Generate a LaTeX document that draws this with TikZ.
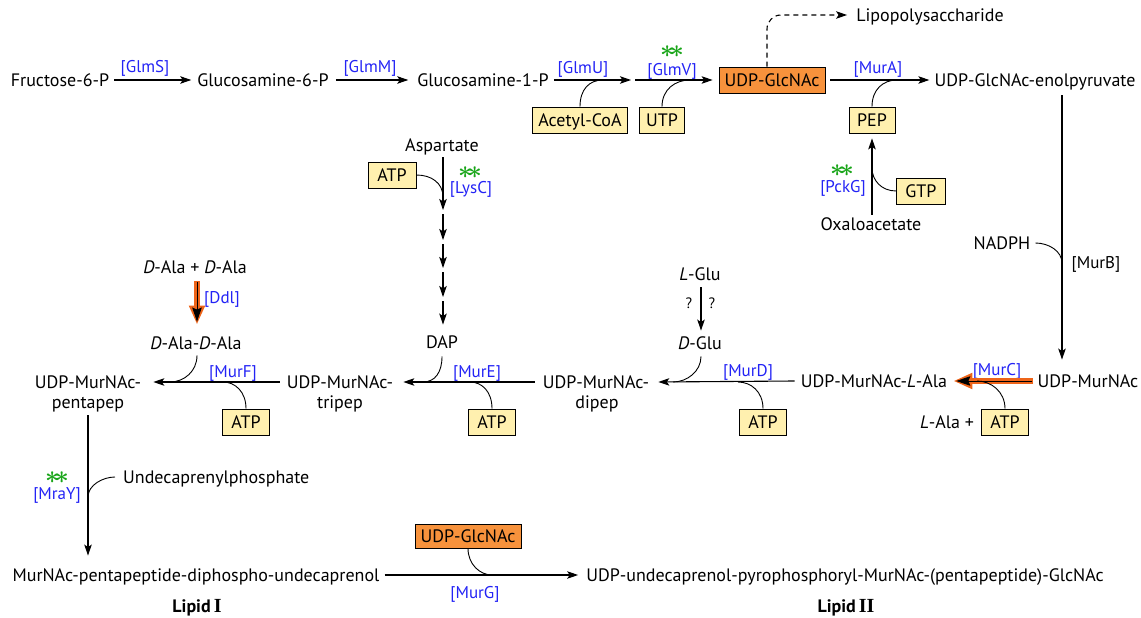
\documentclass[tikz,border=0pt]{standalone}
\usepackage{fontspec}
\setmainfont{PT Sans}
\newfontfamily\romfont{Liberation Serif}
\usetikzlibrary{arrows.meta,calc}
\definecolor{enzblue}{RGB}{35,35,245}
\definecolor{stargreen}{RGB}{25,165,25}
\definecolor{boxyellow}{RGB}{255,240,175}
\definecolor{boxorange}{RGB}{247,146,60}
\definecolor{hiorange}{RGB}{238,100,25}
\begin{document}
\begin{tikzpicture}[x=1pt,y=-1pt,
  every node/.style={inner sep=0pt, font=\fontsize{18}{21}\selectfont},
  lbl/.style={text height=12.5pt, text depth=0pt},
  enz/.style={text=enzblue, font=\fontsize{17}{19}\selectfont, text height=12pt, text depth=0pt},
  stars/.style={text=stargreen, font=\fontsize{25}{25}\selectfont\boldmath, text height=12.5pt, text depth=0pt},
  ybox/.style={draw, line width=0.8pt, fill=boxyellow, minimum height=26pt, text height=12.5pt, text depth=0pt},
  obox/.style={ybox, fill=boxorange},
  arr/.style={line width=1.1pt, -{Stealth[length=11pt,width=7.5pt,inset=2.5pt]}},
  conn/.style={line width=0.9pt},
  hiback/.style={line width=5.5pt, hiorange, shorten >=-3pt, -{Triangle[length=19pt,width=15pt]}},
  hifront/.style={line width=0.8pt, black, -{Stealth[length=14pt,width=9.5pt,inset=2pt]}},
  qm/.style={font=\fontsize{15}{17}\selectfont, text height=11pt, text depth=0pt}
]
\useasboundingbox (0,0) rectangle (1141,618);

% ---------- row 1 ----------
\node[lbl] (f6p) at (60,80) {Fructose-6-P};
\node[lbl] (g6p) at (263,80) {Glucosamine-6-P};
\node[lbl] (g1p) at (483,80) {Glucosamine-1-P};
\node[obox, minimum width=106pt] (udpg) at (772,80) {UDP-GlcNAc};
\node[lbl] (enol) at (1035,80) {UDP-GlcNAc-enolpyruvate};
\node[lbl] (lps) at (930,15) {Lipopolysaccharide};
\node[ybox, minimum width=95pt] (acoa) at (580,120) {Acetyl-CoA};
\node[ybox, minimum width=45pt] (utp) at (662,120) {UTP};
\node[ybox, minimum width=46pt] (pep) at (872,120) {PEP};
\node[enz] (glms) at (145,67) {[GlmS]};
\node[enz] (glmm) at (370,67) {[GlmM]};
\node[enz] (glmu) at (583,68) {[GlmU]};
\node[enz] (glmv) at (672,69) {[GlmV]};
\node[stars] (s1) at (672,51) {$\ast\!\ast$};
\node[enz] (mura) at (878,68) {[MurA]};

\coordinate (m1) at (631,80);
\coordinate (m2) at (635,80);
\coordinate (j1) at (603,80);
\coordinate (j2) at (690,80);
\coordinate (j3) at (897,80);

\draw[arr] ($(f6p.east)+(5,0)$) -- ($(g6p.west)+(-6,0)$);
\draw[arr] ($(g6p.east)+(7,0)$) -- ($(g1p.west)+(-9,0)$);
\draw[arr] ($(g1p.east)+(5,0)$) -- (m1);
\draw[arr] (m2) -- ($(udpg.west)+(-6,0)$);
\draw[arr] ($(udpg.east)+(5,0)$) -- ($(enol.west)+(-5,0)$);
\draw[conn] (acoa.north) .. controls ($(acoa.north)+(0,-17)$) and ($(j1)+(-14,0)$) .. (j1);
\draw[conn] (utp.north) .. controls ($(utp.north)+(0,-17)$) and ($(j2)+(-15,0)$) .. (j2);
\draw[conn] (pep.north) .. controls ($(pep.north)+(0,-17)$) and ($(j3)+(-14,0)$) .. (j3);
\draw[arr, dash pattern=on 5pt off 4pt, rounded corners=14pt, shorten >=9pt] ($(udpg.north)+(-5,0)$) |- (lps.west);

% ---------- right column ----------
\node[lbl] (udpm) at (1088,381) {UDP-MurNAc};
\node[lbl] (nadph) at (1002,243) {NADPH};
\node[enz, text=black] (murb) at (1096,262) {[MurB]};
\coordinate (jb) at (1062,263);
\draw[arr] ($(enol.south)+(27,9)$) -- ($(udpm.north)+(-26,-15)$);
\draw[conn] ($(nadph.east)+(5,0)$) .. controls ($(nadph.east)+(18,0)$) and ($(jb)+(0,-12)$) .. (jb);

% PEP from oxaloacetate
\node[lbl] (oxa) at (871,224) {Oxaloacetate};
\node[ybox, minimum width=49pt] (gtp) at (921,191) {GTP};
\node[stars] (s2) at (842,170) {$\ast\!\ast$};
\node[enz] (pckg) at (843,186) {[PckG]};
\coordinate (jg) at (872,168);
\draw[arr] ($(oxa.north)+(1,-3)$) -- ($(pep.south)+(0,5)$);
\draw[conn] (gtp.west) .. controls ($(gtp.west)+(-15,0)$) and ($(jg)+(0,12)$) .. (jg);

% ---------- aspartate ----------
\node[lbl] (asp) at (442,145) {Aspartate};
\node[lbl] (dap) at (442,342) {DAP};
\node[ybox, minimum width=48pt] (atpl) at (392,175) {ATP};
\node[stars] (s3) at (470,172) {$\ast\!\ast$};
\node[enz] (lysc) at (471,187) {[LysC]};
\coordinate (t1) at (443,210);
\coordinate (u1) at (443,214);
\coordinate (t2) at (443,240);
\coordinate (u2) at (443,244);
\coordinate (t3) at (443,268);
\coordinate (u3) at (443,272);
\coordinate (t4) at (443,297);
\coordinate (u4) at (443,301);
\coordinate (jl) at (443,197);
\draw[arr] ($(asp.south)+(1,6)$) -- (t1);
\draw[arr] (u1) -- (t2);
\draw[arr] (u2) -- (t3);
\draw[arr] (u3) -- (t4);
\draw[arr] (u4) -- ($(dap.north)+(1,-11)$);
\draw[conn] (atpl.east) .. controls ($(atpl.east)+(15,0)$) and ($(jl)+(0,-14)$) .. (jl);

% ---------- glutamate ----------
\node[lbl] (lglu) at (700,274) {\textit{L}-Glu};
\node[lbl] (dglu) at (700,343) {\textit{D}-Glu};
\node[qm] (q1) at (689,303) {?};
\node[qm] (q2) at (712,303) {?};
\draw[arr] ($(lglu.south)+(1,7)$) -- ($(dglu.north)+(1,-6)$);

% ---------- D-Ala ----------
\node[lbl] (dala) at (195,267) {\textit{D}-Ala + \textit{D}-Ala};
\node[lbl] (dalada) at (196,343) {\textit{D}-Ala-\textit{D}-Ala};
\node[enz] (ddl) at (222,297) {[Ddl]};
\draw[hiback] ($(dala.south)+(2,8)$) -- ($(dalada.north)+(1,-15)$);
\draw[hifront] ($(dala.south)+(2,9)$) -- ($(dalada.north)+(1,-15)$);

% ---------- row 3 ----------
\node[lbl] (penta1) at (88,382) {UDP-MurNAc-};
\node[lbl] (penta2) at (88,402) {pentapep};
\node[lbl] (tripep1) at (340,382) {UDP-MurNAc-};
\node[lbl] (tripep2) at (340,402) {tripep};
\node[lbl] (dipep1) at (596,382) {UDP-MurNAc-};
\node[lbl] (dipep2) at (597,402) {dipep};
\node[lbl] (lala) at (874,381) {UDP-MurNAc-\textit{L}-Ala};
\node[enz] (murf) at (233,371) {[MurF]};
\node[enz] (mure) at (477,371) {[MurE]};
\node[enz] (murd) at (748,370) {[MurD]};
\node[enz] (murc) at (997,369) {[MurC]};
\node[ybox, minimum width=47pt] (atpf) at (246,422) {ATP};
\node[ybox, minimum width=47pt] (atpe) at (492,422) {ATP};
\node[ybox, minimum width=47pt] (atpd) at (763,422) {ATP};
\node[ybox, minimum width=47pt] (atpc) at (1005,422) {ATP};
\node[lbl] (lalap) at (947,422) {\textit{L}-Ala +};

\coordinate (jf1) at (170,382);
\coordinate (jf2) at (223,382);
\coordinate (je1) at (423,382);
\coordinate (je2) at (470,382);
\coordinate (jd1) at (673,382);
\coordinate (jd2) at (738,382);
\coordinate (jc) at (977,381);

\draw[arr] ($(tripep1.west)+(-7,0)$) -- ($(penta1.east)+(12,0)$);
\draw[arr] ($(dipep1.west)+(-8,0)$) -- ($(tripep1.east)+(10,0)$);
\draw[arr] ($(lala.west)+(-6,0)$) -- ($(dipep1.east)+(9,0)$);
\draw[hiback] ($(udpm.west)+(-4,0)$) -- ($(lala.east)+(9,0)$);
\draw[hifront] ($(udpm.west)+(-5,0)$) -- ($(lala.east)+(9,0)$);

\draw[conn] ($(dalada.south)+(1,6)$) .. controls ($(dalada.south)+(1,22)$) and ($(jf1)+(14,0)$) .. (jf1);
\draw[conn] (atpf.north) .. controls ($(atpf.north)+(0,-17)$) and ($(jf2)+(12,0)$) .. (jf2);
\draw[conn] ($(dap.south)+(0,8)$) .. controls ($(dap.south)+(0,24)$) and ($(je1)+(12,0)$) .. (je1);
\draw[conn] (atpe.north) .. controls ($(atpe.north)+(0,-17)$) and ($(je2)+(12,0)$) .. (je2);
\draw[conn] ($(dglu.south)+(1,7)$) .. controls ($(dglu.south)+(1,22)$) and ($(jd1)+(14,0)$) .. (jd1);
\draw[conn] (atpd.north) .. controls ($(atpd.north)+(0,-17)$) and ($(jd2)+(13,0)$) .. (jd2);
\draw[conn] (atpc.north) .. controls ($(atpc.north)+(0,-17)$) and ($(jc)+(14,0)$) .. (jc);

% ---------- MraY ----------
\node[lbl, anchor=west] (undec) at (123,477) {Undecaprenylphosphate};
\node[stars] (s4) at (57,477) {$\ast\!\ast$};
\node[enz] (mray) at (57,493) {[MraY]};
\node[lbl] (lipid1) at (196,575) {MurNAc-pentapeptide-diphospho-undecaprenol};
\coordinate (jm) at (88,497);
\draw[arr] ($(penta2.south)+(0,7)$) -- ($(penta2.south |- lipid1.north)+(0,-13)$);
\draw[conn] ($(undec.west)+(-8,0)$) .. controls ($(undec.west)+(-20,0)$) and ($(jm)+(0,-12)$) .. (jm);

% ---------- bottom ----------
\node[lbl] (lipid2) at (845,575) {UDP-undecaprenol-pyrophosphoryl-MurNAc-(pentapeptide)-GlcNAc};
\node[obox, minimum width=106pt, minimum height=24pt] (udpg2) at (468,536) {UDP-GlcNAc};
\node[enz] (murg) at (475,592) {[MurG]};
\coordinate (jg2) at (492,575);
\draw[arr] ($(lipid1.east)+(5,0)$) -- ($(lipid2.west)+(-8,0)$);
\draw[conn] (udpg2.south) .. controls ($(udpg2.south)+(0,16)$) and ($(jg2)+(-12,0)$) .. (jg2);
\node[lbl] (lipI) at (197,606) {\bfseries Lipid\,{\romfont\bfseries\fontsize{20}{20}\selectfont I}};
\node[lbl] (lipII) at (846,606) {\bfseries Lipid\,{\romfont\bfseries\fontsize{20}{20}\selectfont II}};
\end{tikzpicture}
\end{document}
